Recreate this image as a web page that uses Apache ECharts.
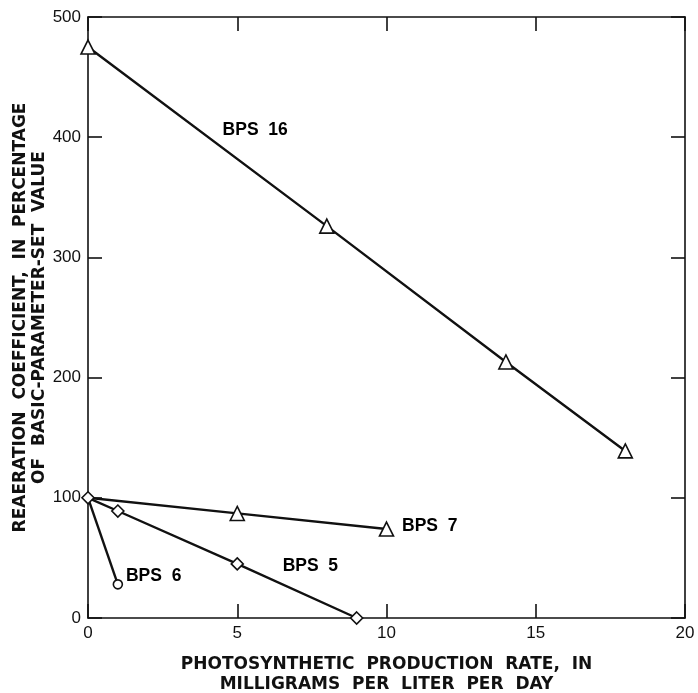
<!DOCTYPE html>
<html><head><meta charset="utf-8">
<script src="https://cdn.jsdelivr.net/npm/echarts@6/dist/echarts.min.js"></script>
<style>html,body{margin:0;padding:0;background:#fff}#c{width:698px;height:693px}</style>
</head><body><div id="c"></div>
<script>
var xTicks = [0, 5, 10, 15, 20];
var yTicks = [0, 100, 200, 300, 400, 500];
var bps16 = [[0, 475], [8, 326], [14, 213], [18, 139]];
var bps7 = [[0, 100], [5, 87], [10, 74]];
var bps5 = [[0, 100], [1, 89], [5, 45], [9, 0]];
var bps6 = [[0, 100], [1, 28]];
var labelNames = ['BPS  16', 'BPS  7', 'BPS  5', 'BPS  6'];
var labelCoords = [[5.6, 406], [11.45, 76], [7.45, 43], [2.2, 35]];

var FONT = 'Liberation Sans';
var TFONT = 'DejaVu Sans';
var chart = echarts.init(document.getElementById('c'), null, {renderer: 'canvas'});
function axisCommon(show) {
  return {
    axisLine: {show: true, onZero: false, lineStyle: {color: '#111', width: 1.6}},
    axisTick: {show: true, inside: true, length: 14, lineStyle: {color: '#111', width: 1.6}},
    splitLine: {show: false},
    axisLabel: {show: show, color: '#111', fontFamily: FONT, fontSize: 17}
  };
}
var xb = Object.assign({type: 'value', min: xTicks[0], max: xTicks[xTicks.length-1], interval: 5, position: 'bottom',
  name: 'PHOTOSYNTHETIC  PRODUCTION  RATE,  IN\nMILLIGRAMS  PER  LITER  PER  DAY', nameLocation: 'middle', nameGap: 37,
  nameTextStyle: {color: '#111', fontFamily: TFONT, fontSize: 17, fontWeight: 'bold', lineHeight: 20}}, axisCommon(true));
xb.axisLabel.margin = 7;
var xt = Object.assign({type: 'value', min: 0, max: 20, interval: 5, position: 'top'}, axisCommon(false));
var yl = Object.assign({type: 'value', min: yTicks[0], max: yTicks[yTicks.length-1], interval: 100, position: 'left',
  name: 'REAERATION  COEFFICIENT,  IN  PERCENTAGE\nOF  BASIC-PARAMETER-SET  VALUE', nameLocation: 'middle', nameGap: 39,
  nameMoveOverlap: false,
  nameTextStyle: {color: '#111', fontFamily: TFONT, fontSize: 17, fontWeight: 'bold', lineHeight: 19}}, axisCommon(true));
yl.axisLabel.margin = 7;
var yr = Object.assign({type: 'value', min: 0, max: 500, interval: 100, position: 'right'}, axisCommon(false));

function lineSeries(name, data, symbol, size, firstNone) {
  return {
    name: name, type: 'line', xAxisIndex: 0, yAxisIndex: 0,
    data: data.map(function (d, i) { return (firstNone && i === 0) ? {value: d, symbol: 'none'} : {value: d}; }),
    symbol: symbol, symbolSize: size, showAllSymbol: true,
    lineStyle: {color: '#111', width: 2.4},
    itemStyle: {color: '#fff', borderColor: '#111', borderWidth: 1.6},
    animation: false, z: 3
  };
}
var series = [
  lineSeries('BPS 16', bps16, 'triangle', 14, false),
  lineSeries('BPS 7', bps7, 'triangle', 14, true),
  lineSeries('BPS 6', bps6, 'circle', 9, true),
  lineSeries('BPS 5', bps5, 'diamond', 12, false)
];
series[3].z = 4;
series.push({
  type: 'scatter', xAxisIndex: 0, yAxisIndex: 0, symbolSize: 1, silent: true, animation: false,
  itemStyle: {opacity: 0},
  data: labelCoords.map(function (c, i) { return {value: c, label: {show: true, formatter: labelNames[i]}}; }),
  label: {position: 'inside', color: '#000', opacity: 1, fontFamily: FONT, fontSize: 17.5, fontWeight: 'bold'}
});
chart.setOption({
  backgroundColor: '#fff',
  animation: false,
  grid: {left: 88, right: 13, top: 17, bottom: 75, containLabel: false, outerBoundsMode: 'none'},
  xAxis: [xb, xt],
  yAxis: [yl, yr],
  series: series
});
</script></body></html>
